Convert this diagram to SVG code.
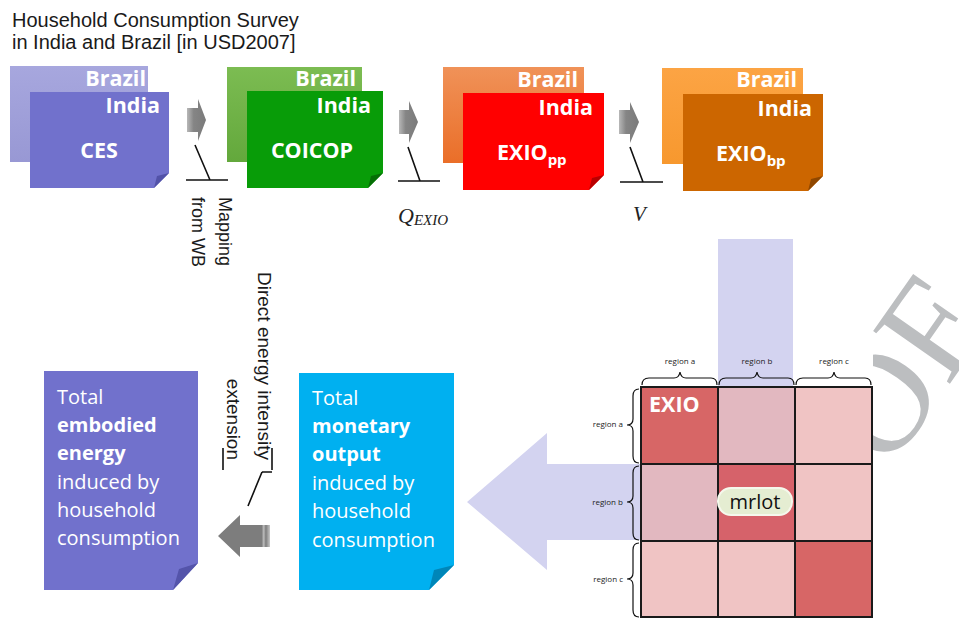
<svg xmlns="http://www.w3.org/2000/svg" width="959" height="618" viewBox="0 0 959 618">
<style>
.lbl{font-family:"Open Sans","Liberation Sans",sans-serif;font-weight:700;fill:#fff;font-size:21.5px}
.end{text-anchor:end}
.mid{text-anchor:middle}
.body{font-family:"Open Sans","Liberation Sans",sans-serif;fill:#fff;font-size:20px}
.b{font-weight:700}
.ar{font-family:"Liberation Sans",Arial,sans-serif;fill:#1a1a1a}
.ln{stroke:#111;stroke-width:1.6;fill:none}
.rg{font-family:"Open Sans","Liberation Sans",sans-serif;font-size:8px;fill:#222}
.br{stroke:#111;stroke-width:1.2;fill:none}
.math{font-family:"Liberation Serif","DejaVu Serif",serif;font-style:italic;fill:#222}
</style>
<defs>
<linearGradient id="gArrow" x1="0" y1="0" x2="1" y2="0">
<stop offset="0" stop-color="#b8b8b8"/><stop offset="0.35" stop-color="#858585"/><stop offset="1" stop-color="#7a7a7a"/>
</linearGradient>
<linearGradient id="gArrowL" x1="1" y1="0" x2="0" y2="0">
<stop offset="0" stop-color="#c8c8c8"/><stop offset="0.08" stop-color="#7d7d7d"/><stop offset="0.12" stop-color="#bdbdbd"/><stop offset="0.16" stop-color="#7d7d7d"/><stop offset="1" stop-color="#7d7d7d"/>
</linearGradient>
<linearGradient id="gCes" x1="0" y1="0" x2="0" y2="1"><stop offset="0" stop-color="#a7a7de"/><stop offset="1" stop-color="#9898d4"/></linearGradient>
<linearGradient id="gCoi" x1="0" y1="0" x2="0" y2="1"><stop offset="0" stop-color="#7cbc52"/><stop offset="1" stop-color="#63a83c"/></linearGradient>
<linearGradient id="gPp" x1="0" y1="0" x2="0" y2="1"><stop offset="0" stop-color="#f09258"/><stop offset="1" stop-color="#ea6e28"/></linearGradient>
<linearGradient id="gBp" x1="0" y1="0" x2="0" y2="1"><stop offset="0" stop-color="#fca444"/><stop offset="1" stop-color="#f7982e"/></linearGradient>
</defs>

<rect width="959" height="618" fill="#fff"/>

<!-- watermark (partly behind the figure) -->
<g id="watermark">
<text transform="translate(879,403) rotate(-55)" x="-51" y="47" font-family="Liberation Serif,serif" font-size="142" fill="#bcbec0">OF</text>
<rect x="780" y="300" width="93" height="170" fill="#fff"/>
</g>

<!-- title -->
<g id="title">
<text class="ar" x="12" y="27" font-size="20">Household Consumption Survey</text>
<text class="ar" x="12" y="49" font-size="20">in India and Brazil [in USD2007]</text>
</g>

<!-- CES -->
<g id="ces">
<rect x="10" y="66" width="138" height="96" fill="url(#gCes)"/>
<text class="lbl end" x="146" y="86">Brazil</text>
<path d="M30,92 H169 V173 L154,188 H30 Z" fill="#7171cc"/>
<path d="M169,173 L154,188 L157,176 Z" fill="#5252a8"/>
<text class="lbl end" x="160" y="113">India</text>
<text class="lbl mid" x="99" y="158">CES</text>
</g>

<!-- COICOP -->
<g id="coicop">
<rect x="227" y="67" width="135" height="95" fill="url(#gCoi)"/>
<text class="lbl end" x="356" y="86">Brazil</text>
<path d="M247,91 H383 V173 L368,188 H247 Z" fill="#089c08"/>
<path d="M383,173 L368,188 L371,176 Z" fill="#056e05"/>
<text class="lbl end" x="371" y="113">India</text>
<text class="lbl mid" x="312" y="158">COICOP</text>
</g>

<!-- EXIO pp -->
<g id="exio_pp">
<rect x="443" y="67" width="141" height="96" fill="url(#gPp)"/>
<text class="lbl end" x="578" y="87">Brazil</text>
<path d="M463,93 H604 V175 L589,190 H463 Z" fill="#ff0000"/>
<path d="M604,175 L589,190 L592,178 Z" fill="#b80000"/>
<text class="lbl end" x="593" y="115">India</text>
<text class="lbl" x="497" y="160">EXIO<tspan font-size="15" dy="5">pp</tspan></text>
</g>

<!-- EXIO bp -->
<g id="exio_bp">
<rect x="662" y="68" width="141" height="96" fill="url(#gBp)"/>
<text class="lbl end" x="797" y="87">Brazil</text>
<path d="M683,94 H823 V176 L808,191 H683 Z" fill="#cc6600"/>
<path d="M823,176 L808,191 L811,179 Z" fill="#8f4700"/>
<text class="lbl end" x="812" y="116">India</text>
<text class="lbl" x="716" y="161">EXIO<tspan font-size="15" dy="5">bp</tspan></text>
</g>

<!-- EXIO / mrlot matrix -->
<g id="mrlot">
<path d="M718,239 H793 V540 H547 V570 L467,502 L547,433 V464 H718 Z" fill="#d3d3f0"/>
<rect x="641" y="387" width="77" height="77" fill="#d76666"/>
<rect x="718" y="387" width="77" height="77" fill="#e2b8c0"/>
<rect x="795" y="387" width="77" height="77" fill="#f0c4c4"/>
<rect x="641" y="464" width="77" height="77" fill="#e2b8c0"/>
<rect x="718" y="464" width="77" height="77" fill="#d6626a"/>
<rect x="795" y="464" width="77" height="77" fill="#f0c4c4"/>
<rect x="641" y="541" width="77" height="76" fill="#f0c4c4"/>
<rect x="718" y="541" width="77" height="76" fill="#f0c4c4"/>
<rect x="795" y="541" width="77" height="76" fill="#d76666"/>
<path d="M641,387 H872 V617 H641 Z M718,387 V617 M795,387 V617 M641,464 H872 M641,541 H872" stroke="#1a1a1a" stroke-width="2" fill="none"/>
<text class="lbl" x="649" y="412">EXIO</text>
<rect x="718" y="488" width="74" height="27" rx="13" fill="#e5edd2" stroke="#f5f8ec" stroke-width="2"/>
<text x="755" y="509" text-anchor="middle" font-family="Open Sans,Liberation Sans,sans-serif" font-size="20" fill="#111">mrlot</text>
<path class="br" d="M642,385 Q642,378 649,378 L674,378 Q679,378 680,372 Q681,378 686,378 L711,378 Q717,378 717,385"/>
<path class="br" d="M719,385 Q719,378 726,378 L751,378 Q756,378 757,372 Q758,378 763,378 L788,378 Q794,378 794,385"/>
<path class="br" d="M796,385 Q796,378 803,378 L828,378 Q833,378 834,372 Q835,378 840,378 L865,378 Q871,378 871,385"/>
<text class="rg mid" x="680" y="364">region a</text>
<text class="rg mid" x="757" y="364">region b</text>
<text class="rg mid" x="834" y="364">region c</text>
<path class="br" d="M639,389 Q633,389 633,396 L633,419 Q633,425 627,425 Q633,425 633,431 L633,456 Q633,463 639,463"/>
<path class="br" d="M639,466 Q633,466 633,473 L633,496 Q633,502 627,502 Q633,502 633,508 L633,533 Q633,540 639,540"/>
<path class="br" d="M639,543 Q633,543 633,550 L633,573 Q633,579 627,579 Q633,579 633,585 L633,610 Q633,617 639,617"/>
<text class="rg end" x="623" y="427">region a</text>
<text class="rg end" x="623" y="505">region b</text>
<text class="rg end" x="623" y="582">region c</text>
</g>

<!-- Total monetary output -->
<g id="monetary">
<path d="M299,373 H454 V565 L429,590 H299 Z" fill="#00b0f0"/>
<path d="M454,565 L429,590 L434,570 Z" fill="#0086b8"/>
<text class="body" x="312" y="405">Total</text>
<text class="body b" x="312" y="433">monetary</text>
<text class="body b" x="312" y="461">output</text>
<text class="body" x="312" y="490">induced by</text>
<text class="body" x="312" y="518">household</text>
<text class="body" x="312" y="547">consumption</text>
</g>

<!-- Total embodied energy -->
<g id="embodied">
<path d="M44,371 H198 V563 L173,590 H44 Z" fill="#7171cc"/>
<path d="M198,563 L173,590 L179,569 Z" fill="#5454aa"/>
<text class="body" x="57" y="404">Total</text>
<text class="body b" x="57" y="432">embodied</text>
<text class="body b" x="57" y="460">energy</text>
<text class="body" x="57" y="489">induced by</text>
<text class="body" x="57" y="517">household</text>
<text class="body" x="57" y="545">consumption</text>
</g>

<!-- connectors -->
<g id="connectors">
<path d="M187,108 H198 V99 L206,120 L198,141 V132 H187 Z" fill="url(#gArrow)"/>
<path d="M399,110 H409 V101 L418,122 L409,143 V134 H399 Z" fill="url(#gArrow)"/>
<path d="M619,110 H630 V102 L639,122 L630,143 V134 H619 Z" fill="url(#gArrow)"/>
<path d="M270,525 H240 V515 L218,536 L240,557 V547 H270 Z" fill="url(#gArrowL)"/>
<path class="ln" d="M195,145 L210,180 M186,180 H228"/>
<path class="ln" d="M408,147 L420,181 M398,181 H440"/>
<path class="ln" d="M630,147 L643,182 M620,182 H663"/>
<path class="ln" d="M262,472 L248,506 M223,448 V470 M272,448 V470 M262,472 H272"/>
<text class="ar" font-size="18" transform="translate(219,197) rotate(90)">Mapping</text>
<text class="ar" font-size="18" transform="translate(192,197) rotate(90)">from WB</text>
<text class="ar" font-size="19" text-anchor="end" transform="translate(258,460) rotate(90)">Direct energy intensity</text>
<text class="ar" font-size="19" text-anchor="end" transform="translate(227,460) rotate(90)">extension</text>
<text class="math" x="398" y="223" font-size="22">Q<tspan font-size="15" dy="2">EXIO</tspan></text>
<text class="math" x="633" y="221" font-size="21">V</text>
</g>
</svg>
